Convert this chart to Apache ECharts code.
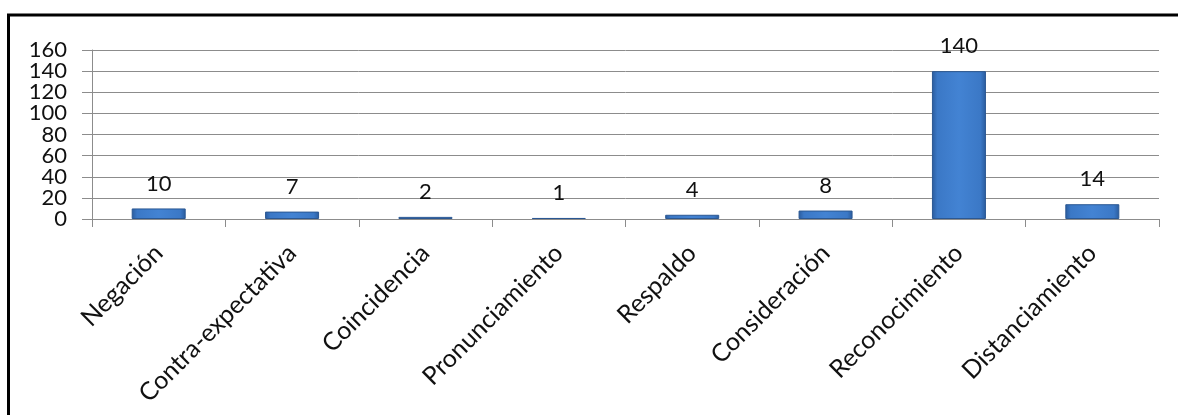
<!DOCTYPE html>
<html>
<head>
<meta charset="utf-8">
<script src="https://cdn.jsdelivr.net/npm/echarts@6/dist/echarts.min.js"></script>
<style>
html,body{margin:0;padding:0;background:#fff;}
#chart{width:1178px;height:415px;}
</style>
</head>
<body>
<div id="chart"></div>
<script>
var categories = ['Negación','Contra-expectativa','Coincidencia','Pronunciamiento','Respaldo','Consideración','Reconocimiento','Distanciamiento'];
var values = [10, 7, 2, 1, 4, 8, 140, 14];
var yTicks = [0, 20, 40, 60, 80, 100, 120, 140, 160];

var chart = echarts.init(document.getElementById('chart'), null, {renderer: 'canvas'});
var font = 'Lato, "Open Sans", sans-serif';
var yMin = yTicks[0], yMax = yTicks[yTicks.length - 1], yStep = yTicks[1] - yTicks[0];

function labelFor(parity) {
  return function (v) {
    var idx = Math.round((v - yMin) / yStep);
    return (idx % 2 === parity) ? String(v) : '';
  };
}
function yAxisDef(parity, main) {
  return {
    type: 'value',
    position: 'left',
    min: yMin, max: yMax, interval: yStep,
    axisLine: {show: main, lineStyle: {color: '#8c8c8c', width: 1}},
    axisTick: {show: main, inside: false, length: 10, lineStyle: {color: '#8c8c8c'}},
    axisLabel: {
      margin: 25, color: '#111', fontFamily: font, fontSize: 22,
      showMinLabel: true, showMaxLabel: true, hideOverlap: false,
      formatter: labelFor(parity)
    },
    splitLine: {show: main, lineStyle: {color: '#8c8c8c', width: 1}}
  };
}

chart.setOption({
  animation: false,
  backgroundColor: '#ffffff',
  grid: {left: 92, right: 19, top: 50, bottom: 196, containLabel: false},
  graphic: [{
    type: 'polyline',
    shape: {points: [[8.5, 415], [8.5, 15], [1178, 15]]},
    style: {stroke: '#000', lineWidth: 3, fill: null},
    z: 100
  }],
  xAxis: {
    type: 'category',
    data: categories,
    axisLine: {show: true, lineStyle: {color: '#8c8c8c', width: 1}},
    axisTick: {show: true, alignWithLabel: false, length: 8, lineStyle: {color: '#8c8c8c'}},
    axisLabel: {rotate: 45, margin: 30, fontSize: 25, fontFamily: font, color: '#111', interval: 0, hideOverlap: false}
  },
  yAxis: [yAxisDef(0, true), yAxisDef(1, false)],
  series: [{
    type: 'bar',
    yAxisIndex: 0,
    data: values,
    barWidth: 54,
    itemStyle: {
      color: new echarts.graphic.LinearGradient(0, 0, 1, 0, [
        {offset: 0, color: '#2a5b9c'},
        {offset: 0.1, color: '#3b78c6'},
        {offset: 0.5, color: '#4383d3'},
        {offset: 0.9, color: '#3b78c6'},
        {offset: 1, color: '#2a5b9c'}
      ]),
      borderColor: '#2b5893',
      borderWidth: 1
    },
    label: {
      show: true,
      position: 'top',
      distance: 14,
      fontSize: 22,
      fontFamily: font,
      color: '#111'
    }
  }]
});
</script>
</body>
</html>
